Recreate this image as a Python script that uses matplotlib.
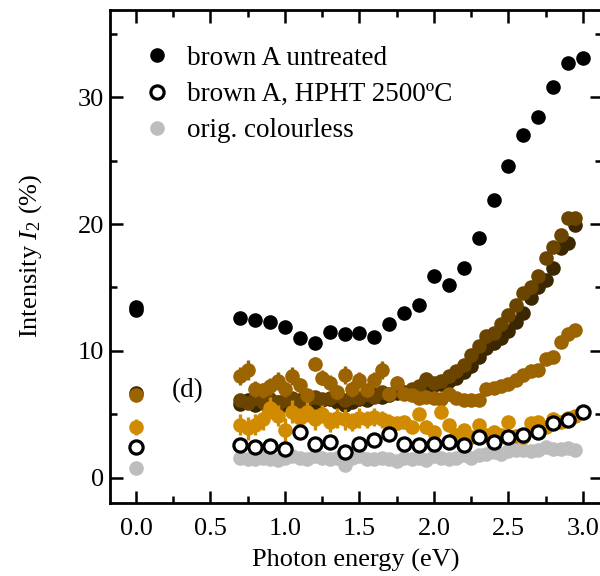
import numpy as np
import matplotlib
matplotlib.use('Agg')
import matplotlib.pyplot as plt

plt.rcParams['font.family'] = 'Liberation Serif'
plt.rcParams['mathtext.fontset'] = 'custom'
plt.rcParams['mathtext.rm'] = 'Liberation Serif'
plt.rcParams['mathtext.it'] = 'Liberation Serif:italic'

nan = np.nan

# coarse energy grid (eV), 0.1 eV steps
e_coarse = [0.0, 0.0, 0.7, 0.8, 0.9, 1.0, 1.1, 1.2, 1.3, 1.4, 1.5, 1.6, 1.7, 1.8,
            1.9, 2.0, 2.1, 2.2, 2.3, 2.4, 2.5, 2.6, 2.7, 2.8, 2.9, 3.0]

# brown A untreated
untreated = [13.5, 13.2, 12.6, 12.4, 12.3, 11.9, 11.0, 10.6, 11.5, 11.3, 11.4, 11.1,
             12.1, 13.0, 13.6, 15.9, 15.2, 16.5, 18.9, 21.9, 24.6, 27.0, 28.4, 30.8,
             32.7, 33.1]

# brown A, HPHT 2500 C
hpht = [2.4, nan, 2.6, 2.4, 2.5, 2.3, 3.65, 2.7, 2.85, 2.0, 2.7, 3.0, 3.45, 2.7,
        2.55, 2.7, 2.85, 2.6, 3.2, 2.85, 3.25, 3.35, 3.65, 4.35, 4.55, 5.15]

# fine energy grid (eV), 0.05 eV steps
e_fine = [0.0, 0.70, 0.75, 0.80, 0.85, 0.90, 0.95, 1.00, 1.05, 1.10, 1.15, 1.20, 1.25,
          1.30, 1.35, 1.40, 1.45, 1.50, 1.55, 1.60, 1.65, 1.70, 1.75, 1.80, 1.85,
          1.90, 1.95, 2.00, 2.05, 2.10, 2.15, 2.20, 2.25, 2.30, 2.35, 2.40, 2.45,
          2.50, 2.55, 2.60, 2.65, 2.70, 2.75, 2.80, 2.85, 2.90, 2.95]

# orig. colourless
colourless = [0.75, 1.6, 1.5, 1.5, 1.6, 1.5, 1.4, 1.6, 1.7, 1.6, 1.5, 1.7, 1.6,
              1.5, 1.6, 1.0, 1.6, 1.7, 1.5, 1.5, 1.6, 1.5, 1.3, 1.6, 1.5,
              1.6, 1.4, 1.7, 1.6, 1.5, 1.6, 1.8, 1.6, 1.8, 1.9, 2.0, 1.9,
              2.1, 2.2, 2.2, 2.1, 2.2, 2.4, 2.3, 2.3, 2.35, 2.2]

# other treated samples (no legend entry)
dark = [6.7, 5.8, 6.1, 5.7, 5.9, 5.8, 6.0, 5.7, 6.0, 6.1, 5.8, 5.9, 6.1,
        6.2, 6.0, 5.7, 6.0, 6.2, 6.1, 6.6, 6.4, 6.5, 6.7, 6.8, 6.8,
        6.9, 7.0, 7.3, 7.4, 7.6, 7.9, 8.3, 8.8, 9.5, 10.2, 10.6, 11.0,
        11.6, 12.3, 13.0, 14.2, 15.0, 15.6, 16.5, 18.1, 18.5, 19.9]
medium = [nan, 6.1, 5.9, 6.3, 6.0, 6.2, 5.9, 6.1, 6.3, 6.0, 6.2, 6.4, 6.2,
          6.3, 6.5, 6.1, 6.4, 6.3, 6.6, 6.4, 6.8, 6.6, 6.9, 6.7, 7.0,
          7.2, 7.8, 7.5, 7.6, 8.0, 8.4, 8.9, 9.7, 10.4, 11.2, 11.4, 12.1,
          12.8, 13.6, 14.6, 15.0, 15.9, 17.3, 18.2, 19.1, 20.5, 20.5]
amber = [6.5, 8.0, 8.5, 7.0, 6.9, 7.2, 7.6, 7.0, 8.0, 7.3, 6.5, 9.0, 7.9,
         7.5, 6.8, 8.1, 7.0, 7.7, 6.9, 7.7, 8.5, 6.6, 7.5, 6.6, 6.5,
         6.3, 6.4, 6.3, 6.2, 6.6, 6.3, 6.1, 6.1, 6.1, 7.0, 7.1, 7.2,
         7.4, 7.7, 8.1, 8.4, 8.5, 9.4, 9.5, 10.7, 11.3, 11.65]
amber_err = [0.2, 0.7, 0.8, 0.6, 0.6, 0.7, 0.7, 0.6, 0.7, 0.6, 0.5, 0.5, 0.6,
             0.6, 0.5, 0.7, 0.6, 0.6, 0.5, 0.6, 0.7, 0.4, 0.5, 0.3, 0.3,
             0.2, 0.2, 0.2, 0.2, 0.2, 0.2, 0.1, 0.1, 0.1, 0.1, 0.1, 0.1,
             0.1, 0.1, 0.1, 0.1, 0.1, 0.1, 0.1, 0.1, 0.1, 0.1]
orange = [4.0, 4.2, 3.9, 4.2, 4.6, 5.5, 4.9, 3.8, 5.2, 4.7, 5.2, 4.6, 5.0,
          4.4, 4.7, 4.6, 4.4, 4.7, 4.6, 4.8, 4.6, 4.4, 4.3, 4.4, 4.0,
          5.0, 4.0, 3.6, 5.2, 4.2, 3.4, 3.8, 3.2, 4.2, 3.4, 3.6, 3.4,
          4.4, 3.3, 3.2, 4.3, 4.4, 4.0, 4.6, 4.4, 4.7, 4.9]
orange_err = [0.6, 0.8, 0.9, 0.8, 0.8, 0.9, 0.8, 0.9, 0.9, 0.8, 0.8, 0.8, 0.7,
              0.8, 0.8, 0.8, 0.7, 0.8, 0.7, 0.7, 0.7, 0.6, 0.5, 0.4, 0.3,
              0.3, 0.3, 0.2, 0.2, 0.2, 0.2, 0.2, 0.2, 0.2, 0.2, 0.2, 0.2,
              0.2, 0.2, 0.2, 0.2, 0.2, 0.2, 0.2, 0.2, 0.2, 0.2]

fig = plt.figure(figsize=(6, 5.76), dpi=100)
ax = fig.add_axes([0.1825, 0.127, 0.8215, 0.8565])

ms = 10.5
ax.plot(e_fine, colourless, 'o', color='#bdbdbd', ms=ms, mec='none', zorder=2)
ax.plot(e_fine, dark, 'o', color='#3b2700', ms=ms, mec='none', zorder=3)
ax.plot(e_fine, medium, 'o', color='#6b4500', ms=ms, mec='none', zorder=4)
ax.errorbar(e_fine, amber, yerr=amber_err, fmt='o', color='#9c6400', ms=ms,
            mec='none', elinewidth=2.4, capsize=0, zorder=5)
ax.errorbar(e_fine, orange, yerr=orange_err, fmt='o', color='#d08b00', ms=ms,
            mec='none', elinewidth=2.4, capsize=0, zorder=6)
ax.plot(e_coarse, hpht, 'o', mfc='white', mec='black', mew=2.3, ms=ms - 1, zorder=7)
ax.plot(e_coarse, untreated, 'o', color='black', ms=ms, mec='none', zorder=8)

# legend
h1, = ax.plot([], [], 'o', color='black', ms=ms, mec='none')
h2, = ax.plot([], [], 'o', mfc='white', mec='black', mew=2.3, ms=ms - 1)
h3, = ax.plot([], [], 'o', color='#bdbdbd', ms=ms, mec='none')
ax.legend([h1, h2, h3], ['brown A untreated', 'brown A, HPHT 2500ºC', 'orig. colourless'],
          loc='upper left', bbox_to_anchor=(0.03, 0.965), frameon=False, fontsize=19.5,
          handlelength=1.0, handletextpad=0.6, labelspacing=0.42, borderpad=0.2)

ax.text(0.24, 6.9, '(d)', fontsize=19.5, ha='left', va='center')

ax.set_xlim(-0.178, 3.131)
ax.set_ylim(-1.97, 36.9)
ax.set_xticks([0.0, 0.5, 1.0, 1.5, 2.0, 2.5, 3.0])
ax.set_xticks([0.25, 0.75, 1.25, 1.75, 2.25, 2.75], minor=True)
ax.set_yticks([0, 10, 20, 30])
ax.set_yticks([5, 15, 25, 35], minor=True)
ax.xaxis.set_major_formatter(matplotlib.ticker.FormatStrFormatter('%.1f'))

for s in ax.spines.values():
    s.set_linewidth(2)
ax.tick_params(which='both', direction='in', top=True, right=True, width=1.8, labelsize=19)
ax.tick_params(which='major', length=9)
ax.tick_params(which='minor', length=5)
ax.tick_params(axis='x', pad=11)
ax.tick_params(axis='y', pad=4)

ax.set_xlabel('Photon energy (eV)', fontsize=19, labelpad=6)
ax.set_ylabel('Intensity $I_2$ (%)', fontsize=19, labelpad=24)

fig.savefig('out.png', dpi=100)
